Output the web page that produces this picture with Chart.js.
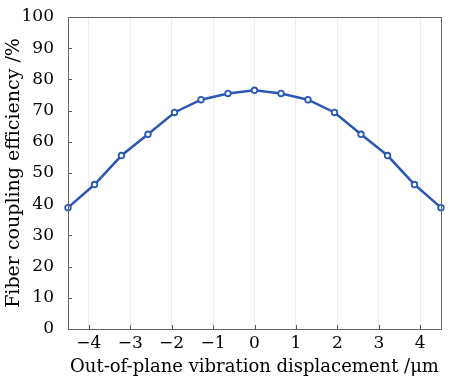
<!DOCTYPE html>
<html>
<head>
<meta charset="utf-8">
<script src="https://cdn.jsdelivr.net/npm/chart.js@4/dist/chart.umd.min.js"></script>
<style>
  body { margin: 0; background: #fff; }
  #wrap { width: 450px; height: 380px; }
</style>
</head>
<body>
<div id="wrap"><canvas id="fiberChart"></canvas></div>
<script>
// displacement (um) and coupling efficiency (%)
const displacement = [-4.5, -3.86, -3.21, -2.57, -1.93, -1.29, -0.64, 0, 0.64, 1.29, 1.93, 2.57, 3.21, 3.86, 4.5];
const efficiency = [38.9, 46.3, 55.6, 62.4, 69.4, 73.5, 75.5, 76.5, 75.5, 73.5, 69.4, 62.4, 55.6, 46.3, 38.9];
const xTicks = [-4, -3, -2, -1, 0, 1, 2, 3, 4];
const yTicks = [0, 10, 20, 30, 40, 50, 60, 70, 80, 90, 100];

const FONT = "'DejaVu Serif', serif";
const lineColor = '#2b57b5';

// frame + inward tick marks
const framePlugin = {
  id: 'frame',
  afterDraw(chart) {
    const ctx = chart.ctx, a = chart.chartArea;
    const xs = chart.scales.x, ys = chart.scales.y;
    ctx.save();
    ctx.strokeStyle = '#555';
    ctx.lineWidth = 1;
    ctx.beginPath();
    xTicks.forEach(v => {
      const px = Math.round(xs.getPixelForValue(v)) + 0.5;
      ctx.moveTo(px, a.bottom);
      ctx.lineTo(px, a.bottom - 4);
    });
    yTicks.forEach(v => {
      const py = Math.round(ys.getPixelForValue(v)) + 0.5;
      ctx.moveTo(a.left, py);
      ctx.lineTo(a.left + 4, py);
    });
    ctx.stroke();
    ctx.strokeStyle = '#666';
    ctx.strokeRect(a.left + 0.5, a.top + 0.5, a.right - a.left, a.bottom - a.top);
    ctx.restore();
  }
};

const ctx = document.getElementById('fiberChart').getContext('2d');
new Chart(ctx, {
  type: 'scatter',
  data: {
    datasets: [{
      data: displacement.map((x, i) => ({ x: x, y: efficiency[i] })),
      showLine: true,
      borderColor: lineColor,
      borderWidth: 2.5,
      pointRadius: 2.8,
      pointBorderWidth: 1.8,
      pointBackgroundColor: '#fff',
      pointBorderColor: lineColor,
      clip: false
    }]
  },
  options: {
    responsive: true,
    maintainAspectRatio: false,
    animation: false,
    layout: { padding: { top: 17, right: 9, left: 3, bottom: 0 } },
    plugins: { legend: { display: false }, tooltip: { enabled: false } },
    scales: {
      x: {
        type: 'linear',
        min: -4.5,
        max: 4.5,
        afterBuildTicks: s => { s.ticks = xTicks.map(v => ({ value: v })); },
        afterFit: s => { s.height = 51; },
        grid: { color: '#eeeeee', drawTicks: false },
        border: { display: false },
        ticks: {
          padding: 4,
          color: '#000',
          font: { family: FONT, size: 17 },
          callback: v => v < 0 ? '\u2212' + Math.abs(v) : '' + v
        },
        title: {
          display: true,
          text: 'Out-of-plane vibration displacement /\u03bcm',
          color: '#000',
          font: { family: FONT, size: 18 },
          padding: { top: 0, bottom: 2 }
        }
      },
      y: {
        min: 0,
        max: 100,
        afterBuildTicks: s => { s.ticks = yTicks.map(v => ({ value: v })); },
        afterFit: s => { s.width = 65; },
        grid: { display: false },
        border: { display: false },
        ticks: {
          padding: 6,
          color: '#000',
          font: { family: FONT, size: 17 }
        },
        title: {
          display: true,
          text: 'Fiber coupling efficiency /%',
          color: '#000',
          font: { family: FONT, size: 19 },
          padding: { top: 0, bottom: 0 }
        }
      }
    }
  },
  plugins: [framePlugin]
});
</script>
</body>
</html>
